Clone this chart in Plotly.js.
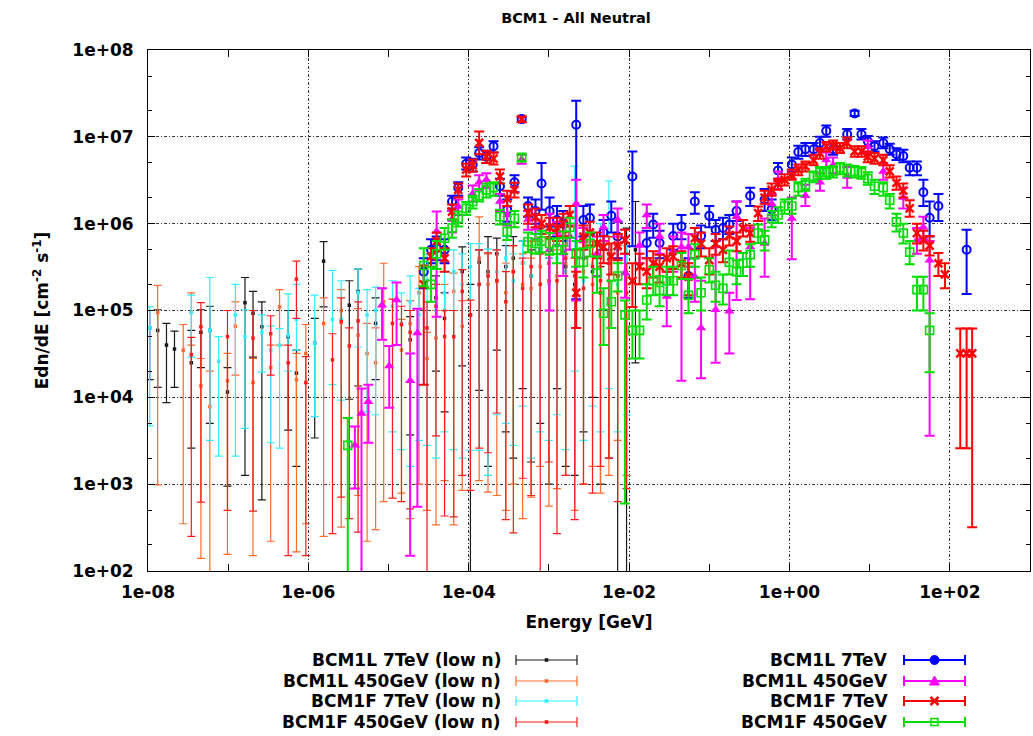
<!DOCTYPE html>
<html><head><meta charset="utf-8">
<script src="https://cdn.plot.ly/plotly-3.0.1.min.js"></script>
<style>html,body{margin:0;padding:0;background:#fff}#chart{width:1033px;height:736px}</style>
</head><body><div id="chart"></div>
<script>
// ---------------- DATA ----------------
const SERIES_NAMES = ['BCM1L 7TeV (low n)','BCM1L 450GeV (low n)','BCM1F 7TeV (low n)','BCM1F 450GeV (low n)',
                      'BCM1L 7TeV','BCM1L 450GeV','BCM1F 7TeV','BCM1F 450GeV'];
const X_TICKS = [1e-8,1e-6,1e-4,1e-2,1,100];
const X_TICK_TEXT = ['1e-08','1e-06','1e-04','1e-02','1e+00','1e+02'];
const Y_TICKS = [1e2,1e3,1e4,1e5,1e6,1e7,1e8];
const Y_TICK_TEXT = ['1e+02','1e+03','1e+04','1e+05','1e+06','1e+07','1e+08'];

// low-n energies (GeV)
const lowE = [1.05e-8,1.32e-8,1.7e-8,2.14e-8,2.75e-8,3.47e-8,4.57e-8,5.9e-8,7.6e-8,9.8e-8,
 1.23e-7,1.62e-7,2.04e-7,2.63e-7,3.39e-7,4.37e-7,5.6e-7,7.1e-7,9.3e-7,1.2e-6,
 1.55e-6,2.0e-6,2.57e-6,3.24e-6,4.17e-6,5.4e-6,6.9e-6,8.7e-6,1.12e-5,1.45e-5,
 1.86e-5,2.4e-5,3.02e-5,3.9e-5,5.0e-5,6.5e-5,8.3e-5,1.05e-4,1.35e-4,1.74e-4,
 2.24e-4,2.9e-4,3.6e-4,4.7e-4,6.0e-4,7.8e-4,1.0e-3,1.26e-3,1.62e-3,2.1e-3,
 2.7e-3,3.5e-3,4.4e-3,5.6e-3,7.2e-3,9.3e-3,1.2e-2];

// BCM1L 7TeV (low n): value, upper end, lower end
const bl7LowV = [6.3e4,5.9e4,4.0e4,3.6e4,null,2.5e4,5.6e4,5.9e4,null,1.15e4,
 null,1.23e5,9.3e4,6.5e4,null,null,5.0e4,1.9e4,null,4.2e4,
 3.7e5,null,null,1.15e5,1.66e5,null,7.1e4,null,null,null,
 4.6e4,null,null,1.4e5,8.1e4,null,2.8e5,8.9e4,3.6e5,2.8e5,
 4.5e5,3.2e5,4.0e5,3.5e5,2.5e5,5.0e5,2.2e5,5.6e5,3.2e5,2.0e5,
 4.0e5,2.8e5,1.6e5,4.5e5,2.5e5,2.5e5,5.0e5];
const bl7LowHi = [1.0e5,1.02e5,7.1e4,5.8e4,null,5.9e4,1.02e5,1.12e5,null,2.2e4,
 null,2.4e5,1.66e5,1.26e5,null,null,1.0e5,3.5e4,null,8.1e4,
 6.2e5,null,null,2.2e5,3.0e5,null,1.4e5,null,null,null,
 8.5e4,null,null,2.5e5,1.6e5,null,5.4e5,2.0e5,5.0e5,7.1e5,
 6.8e5,5.6e5,7.1e5,6.3e5,5.0e5,8.9e5,4.0e5,8.9e5,5.6e5,4.0e5,
 6.3e5,5.6e5,3.2e5,7.1e5,5.0e5,8.9e5,1.8e6];
const bl7LowLo = [1.6e4,1.3e4,8.7e3,1.3e4,null,2.6e3,2.2e4,5.0e3,null,9.5e2,
 null,1.26e3,2.9e4,6.6e2,null,null,4.2e3,1.6e3,null,3.4e3,
 1.1e5,null,null,9.5e3,1.35e4,null,1.6e4,null,null,null,
 3.7e3,null,null,2.0e4,6.8e3,null,2.3e4,30,1.2e4,1.6e3,
 3.5e4,4.0e3,2.0e3,1.26e4,1.8e3,5.0e3,1.0e3,1.26e4,1.6e3,1.26e3,
 4.0e3,1.0e4,1.0e3,2.0e3,30,30,2.5e4];

// BCM1L 450GeV (low n)
const bl450LowV = [null,9.5e4,null,null,3.5e4,9.5e4,1.35e4,7.8e3,null,1.55e4,
 6.6e4,null,1.48e4,null,2.2e4,1.1e5,null,1.6e4,3.2e4,null,
 7.1e4,null,1.0e5,null,5.2e4,3.2e4,2.5e4,1.26e5,null,3.5e4,
 7.1e4,1.6e5,2.8e4,4.8e4,1.0e5,1.66e5,6.6e4,null,4.0e5,2.0e5,
 2.2e5,1.6e5,2.8e5,2.0e5,1.8e5,3.2e5,2.2e5,2.5e5,3.5e5,1.8e5,
 2.8e5,2.0e5,3.2e5,2.2e5,1.6e5,2.8e5,null];
const bl450LowHi = [null,1.95e5,null,null,6.9e4,1.6e5,2.8e4,2.0e4,null,3.2e4,
 1.26e5,null,2.8e4,null,4.0e4,1.74e5,null,3.2e4,6.9e4,null,
 1.4e5,null,1.74e5,null,1.05e5,7.1e4,6.3e4,3.5e5,null,7.9e4,
 1.3e5,3.2e5,5.6e4,1.0e5,2.0e5,2.7e5,1.3e5,null,1.2e6,4.5e5,
 5.0e5,3.5e5,5.6e5,4.5e5,4.0e5,6.3e5,4.5e5,5.0e5,7.1e5,4.0e5,
 6.3e5,4.5e5,6.3e5,5.0e5,3.5e5,5.6e5,null];
const bl450LowLo = [null,9.8e2,null,null,3.5e2,4.0e4,1.4e2,30,null,1.55e2,
 1.8e4,null,1.5e2,null,2.2e2,4.0e4,null,1.66e2,3.5e2,null,
 2.5e2,null,3.2e2,null,7.4e2,2.2e2,3.0e2,6.3e2,null,7.9e2,
 4.0e2,1.0e3,5.0e2,3.4e2,1.1e3,3.4e2,8.5e2,null,1.1e3,8.1e2,
 7.4e2,5.0e2,1.0e3,4.0e2,7.1e2,1.6e3,5.6e2,8.9e2,1.26e3,5.0e2,
 1.0e3,1.6e3,7.9e2,1.26e3,3.2e3,1.26e3,null];

// BCM1F 7TeV (low n)
const bf7LowV = [6.3e4,null,null,null,null,9.5e4,null,5.9e4,2.6e4,null,
 8.9e4,5.0e4,null,5.6e4,3.5e4,4.0e4,5.2e4,7.9e4,null,4.2e4,
 null,7.9e4,7.9e4,null,1.6e5,8.9e4,1.0e5,null,1.12e5,7.1e4,
 1.26e5,8.9e4,2.2e5,1.0e5,1.6e5,2.8e5,2.0e5,3.2e5,2.0e5,2.5e5,
 2.8e5,4.0e5,2.2e5,3.5e5,2.5e5,4.5e5,2.0e5,4.0e5,2.8e5,5.0e5,
 2.2e5,3.5e5,2.5e5,4.0e5,2.0e5,2.5e5,null];
const bf7LowHi = [1.1e5,null,null,null,null,1.5e5,null,2.4e5,5.0e4,null,
 2.0e5,1.02e5,null,8.9e4,6.6e4,6.2e4,1.55e5,2.0e5,null,1.5e5,
 null,2.9e5,2.2e5,null,3.0e5,1.74e5,1.86e5,null,2.2e5,1.6e5,
 2.5e5,1.8e5,4.5e5,2.0e5,3.5e5,5.0e5,4.5e5,5.9e5,5.9e5,5.1e5,
 5.0e5,7.1e5,4.5e5,6.3e5,5.6e5,7.9e5,4.0e5,8.9e5,5.6e5,4.6e6,
 5.0e5,7.1e5,1.0e6,3.1e6,5.0e5,5.6e5,null];
const bf7LowLo = [4.7e3,null,null,null,null,2.9e4,null,3.2e3,2.1e3,null,
 2.1e3,4.4e3,null,1.95e4,3.0e3,2.6e3,2.0e4,3.5e4,null,6.0e3,
 null,1.4e4,9.3e3,null,3.8e4,6.8e3,6.3e3,null,4.0e3,2.5e3,
 1.6e3,3.2e3,2.8e3,2.0e3,4.0e3,2.5e3,2.0e3,2.45e3,2.45e3,1.26e3,
 6.3e3,5.0e3,2.8e3,7.9e3,2.0e3,4.0e3,3.2e3,6.3e3,2.5e3,2.0e4,
 3.2e3,7.9e3,4.0e3,1.26e4,4.0e3,6.3e3,null];

// BCM1F 450GeV (low n)
const bf450LowV = [null,null,null,null,null,3.1e4,6.5e4,null,null,5.0e4,
 null,null,4.8e4,null,5.4e4,null,2.5e4,2.3e5,1.48e4,null,
 null,2.7e4,7.4e4,3.9e4,7.6e4,null,null,null,7.1e4,6.9e4,
 5.6e4,null,6.3e4,1.12e5,5.0e4,5.0e4,1.66e5,8.9e4,2.0e5,2.5e5,
 2.2e5,1.26e5,2.8e5,1.8e5,3.2e5,2.0e5,3.5e5,2.2e5,4.0e5,2.5e5,
 1.8e5,3.2e5,2.2e5,3.5e5,2.5e5,1.6e5,null];
const bf450LowHi = [null,null,null,null,null,4.9e4,1.23e5,null,null,1.0e5,
 null,null,1.0e5,null,8.7e4,null,4.0e4,3.7e5,2.95e4,null,
 null,5.4e4,1.4e5,6.3e4,1.26e5,null,null,null,1.35e5,1.12e5,
 1.0e5,null,1.26e5,2.0e5,1.0e5,1.0e5,2.95e5,1.32e5,5.0e5,4.6e5,
 5.0e5,2.8e5,5.6e5,4.0e5,6.3e5,4.5e5,7.1e5,4.5e5,7.9e5,5.0e5,
 4.0e5,6.3e5,5.0e5,7.1e5,5.6e5,3.5e5,null];
const bf450LowLo = [null,null,null,null,null,2.5e2,6.2e2,null,null,5.0e2,
 null,null,4.9e2,null,1.8e4,null,1.5e2,8.1e4,1.5e2,null,
 null,2.7e2,7.1e2,4.0e2,2.8e2,null,null,null,6.9e2,6.3e2,
 5.2e2,null,30,3.6e3,4.3e2,4.2e2,1.26e3,8.5e2,2.6e3,2.3e3,
 6.6e3,3.9e2,2.75e2,1.17e3,7.4e2,30,1.8e3,2.7e2,1.26e3,3.9e2,
 1.0e3,7.9e2,1.6e3,2.0e3,6.3e2,8.9e2,null];

// high-n energies (GeV)
const highE = [3.1e-6,3.8e-6,4.6e-6,5.6e-6,6.9e-6,8.3e-6,1.02e-5,1.26e-5,1.51e-5,1.86e-5,
 2.29e-5,2.75e-5,3.39e-5,3.98e-5,5.0e-5,6.2e-5,7.4e-5,9.3e-5,1.12e-4,1.35e-4,
 1.66e-4,2.04e-4,2.45e-4,3.02e-4,3.72e-4,4.57e-4,5.5e-4,6.8e-4,8.1e-4,1.02e-3,
 1.26e-3,1.51e-3,1.82e-3,2.19e-3,2.69e-3,3.24e-3,3.98e-3,4.8e-3,6.0e-3,7.2e-3,
 8.9e-3,1.10e-2,1.35e-2,1.66e-2,2.0e-2,2.4e-2,2.95e-2,3.55e-2,4.5e-2,5.5e-2,
 6.6e-2,7.9e-2,0.100,0.120,0.148,0.178,0.219,0.263,0.324,0.407,
 0.49,0.60,0.72,0.87,1.07,1.29,1.58,2.0,2.4,2.88,
 3.5,4.27,5.25,6.5,7.9,9.5,11.5,14.8,17.8,21.6,
 26.3,31.6,38.9,46.8,56,72,87,107,135,162,
 190];

// BCM1L 7TeV
const bl7V = [null,null,null,null,null,null,null,null,null,null,
 null,2.8e5,5.0e5,5.2e5,5.0e5,1.8e6,2.6e6,4.9e6,4.8e6,6.5e6,
 5.9e6,7.8e6,2.7e6,1.45e6,3.0e6,1.6e7,1.6e6,1.4e6,2.9e6,1.4e6,
 1.1e6,1.0e6,null,1.38e7,1.1e6,1.17e6,null,7.9e5,1.23e6,7.1e5,
 null,3.5e6,null,6.0e5,9.8e5,6.0e5,null,7.2e5,9.3e5,2.5e5,
 1.8e6,7.2e5,1.23e6,8.5e5,8.9e5,9.8e5,1.4e6,null,2.1e6,null,
 1.9e6,1.46e6,4.1e6,null,4.8e6,6.7e6,7.2e6,7.2e6,8.5e6,1.17e7,
 7.2e6,null,1.07e7,1.86e7,1.07e7,8.9e6,7.8e6,8.5e6,7.2e6,6.3e6,
 6.0e6,4.4e6,4.4e6,2.3e6,1.17e6,1.6e6,null,null,null,5.0e5,
 null];
const bl7Hi = [null,null,null,null,null,null,null,null,null,null,
 null,4.0e5,6.6e5,7.1e5,6.6e5,2.1e6,3.0e6,5.8e6,5.6e6,7.6e6,
 6.9e6,8.9e6,3.3e6,1.9e6,3.6e6,1.7e7,2.0e6,1.9e6,5.0e6,2.0e6,
 1.6e6,1.4e6,null,2.6e7,1.6e6,1.66e6,null,1.1e6,1.8e6,1.05e6,
 null,6.8e6,null,8.3e5,1.3e6,8.3e5,null,1.0e6,1.26e6,4.0e5,
 2.3e6,9.5e5,1.6e6,1.1e6,1.17e6,1.26e6,1.8e6,null,2.6e6,null,
 2.5e6,1.9e6,5.0e6,null,5.8e6,7.9e6,8.5e6,8.5e6,1.0e7,1.35e7,
 8.3e6,null,1.23e7,2.0e7,1.23e7,1.02e7,8.9e6,9.8e6,8.3e6,7.4e6,
 7.1e6,5.2e6,5.2e6,3.2e6,1.8e6,2.2e6,null,null,null,8.5e5,
 null];
const bl7Lo = [null,null,null,null,null,null,null,null,null,null,
 null,1.8e5,3.5e5,3.8e5,3.5e5,1.5e6,2.1e6,4.2e6,4.0e6,5.5e6,
 5.0e6,6.6e6,2.1e6,1.05e6,2.3e6,1.48e7,1.2e6,1.0e6,1.45e6,9.3e5,
 7.1e5,6.3e5,null,1.35e5,7.1e5,7.6e5,null,5.0e5,7.9e5,4.0e5,
 null,5.5e5,null,4.0e5,6.9e5,4.0e5,null,5.0e5,6.6e5,1.4e5,
 1.3e6,5.2e5,9.1e5,6.3e5,6.6e5,7.6e5,1.07e6,null,1.6e6,null,
 1.4e6,1.1e6,3.3e6,null,4.0e6,5.6e6,6.0e6,6.2e6,7.2e6,1.0e7,
 6.2e6,null,9.3e6,1.74e7,9.3e6,7.8e6,6.8e6,7.4e6,6.2e6,5.4e6,
 5.1e6,3.6e6,3.6e6,1.6e6,7.1e5,1.07e6,null,null,null,1.55e5,
 null];

// BCM1L 450GeV
const bl450V = [null,2.8e3,6.5e3,8.9e3,null,1.15e5,2.3e4,1.32e5,null,1.55e4,
 5.5e4,null,null,8.1e5,null,1.12e6,1.58e6,null,2.2e6,3.0e6,
 3.2e6,null,1.8e6,1.26e6,null,5.5e6,1.12e6,8.9e5,null,5.0e5,
 7.9e5,4.6e5,7.1e5,1.7e6,6.3e5,null,4.5e5,9.1e5,null,1.1e6,
 2.7e5,null,5.6e5,1.26e6,null,7.1e5,1.45e5,4.8e5,5.4e5,5.4e5,
 2.45e5,6.3e4,null,1.02e5,null,9.8e4,1.2e6,null,5.4e5,null,
 5.9e5,1.7e6,3.2e6,null,1.15e6,null,2.1e6,null,3.0e6,5.4e6,
 4.7e6,null,3.5e6,null,null,7.7e6,null,4.0e6,null,null,
 2.0e6,null,6.5e5,9.1e5,3.8e5,null,null,null,null,null,
 null];
const bl450Hi = [null,4.6e3,1.26e4,1.4e4,null,1.8e5,3.9e4,2.1e5,null,3.2e4,
 1.05e5,null,null,1.38e6,null,1.4e6,1.9e6,null,2.75e6,3.6e6,
 3.8e6,null,2.2e6,1.6e6,null,6.2e6,1.4e6,1.12e6,null,1.3e6,
 1.05e6,7.1e5,9.5e5,3.2e6,8.9e5,null,7.1e5,1.26e6,null,1.5e6,
 4.5e5,null,7.9e5,1.66e6,null,1.0e6,2.8e5,7.1e5,7.9e5,7.6e5,
 4.0e5,2.2e5,null,5.4e5,null,1.6e5,1.8e6,null,8.9e5,null,
 1.15e6,2.2e6,4.0e6,null,2.0e6,null,2.8e6,null,3.8e6,6.6e6,
 5.8e6,null,4.5e6,null,null,9.1e6,null,5.0e6,null,null,
 2.6e6,null,8.9e5,1.2e6,6.3e5,null,null,null,null,null,
 null];
const bl450Lo = [null,8.9e2,30,3.0e3,null,4.6e4,7.6e3,4.0e4,null,1.5e2,
 5.5e2,null,null,8.5e4,null,7.9e5,1.26e6,null,1.8e6,2.45e6,
 2.6e6,null,1.4e6,9.5e5,null,4.9e6,8.5e5,6.6e5,null,1.0e5,
 5.6e5,2.5e5,5.0e5,1.3e5,4.0e5,null,2.5e5,6.3e5,null,7.1e5,
 1.4e5,null,3.5e5,8.9e5,null,4.5e5,6.6e4,2.8e5,1.55e4,3.2e5,
 1.26e5,1.66e4,null,2.5e4,null,3.2e4,1.32e5,null,1.35e5,null,
 2.45e5,1.26e6,2.5e6,null,3.9e5,null,1.6e6,null,2.4e6,4.4e6,
 3.8e6,null,2.6e6,null,null,6.5e6,null,3.2e6,null,null,
 1.5e6,null,4.5e5,6.6e5,3.6e3,null,null,null,null,null,
 null];

// BCM1F 7TeV
const bf7V = [null,null,null,null,null,null,null,null,null,null,
 null,2.0e5,4.2e5,6.3e5,4.0e5,1.38e6,2.45e6,4.2e6,4.7e6,8.5e6,
 5.9e6,5.6e6,3.5e6,1.95e6,2.45e6,1.6e7,1.32e6,1.2e6,1.0e6,9.1e5,
 8.9e5,1.0e6,1.26e6,1.6e5,7.1e5,7.9e5,5.9e5,5.4e5,4.2e5,5.6e5,
 6.5e5,2.2e5,3.2e5,2.8e5,3.5e5,3.2e5,4.0e5,4.2e5,3.5e5,2.45e5,
 6.8e5,5.9e5,3.8e5,5.9e5,5.0e5,7.4e5,6.3e5,8.9e5,7.8e5,1.32e6,
 2.0e6,2.45e6,2.9e6,3.2e6,3.6e6,4.2e6,4.6e6,5.4e6,6.5e6,7.7e6,
 8.0e6,7.4e6,8.5e6,6.8e6,6.8e6,5.9e6,5.6e6,5.4e6,4.0e6,2.95e6,
 2.4e6,1.5e6,7.8e5,6.5e5,5.6e5,3.5e5,2.6e5,null,3.2e4,3.2e4,
 3.2e4];
const bf7Hi = [null,null,null,null,null,null,null,null,null,null,
 null,3.3e5,5.2e5,7.9e5,5.2e5,1.66e6,2.9e6,4.9e6,5.5e6,1.15e7,
 6.9e6,6.6e6,4.2e6,2.4e6,2.95e6,1.7e7,1.66e6,1.5e6,1.26e6,1.17e6,
 1.17e6,1.3e6,1.6e6,2.8e5,9.5e5,1.05e6,7.9e5,7.2e5,5.9e5,7.6e5,
 8.5e5,3.5e5,4.5e5,4.0e5,4.8e5,4.4e5,5.2e5,5.5e5,4.8e5,3.5e5,
 8.9e5,7.9e5,5.2e5,7.6e5,6.6e5,9.3e5,7.9e5,1.1e6,9.5e5,1.58e6,
 2.4e6,2.9e6,3.3e6,3.7e6,4.2e6,4.8e6,5.2e6,6.2e6,7.4e6,8.7e6,
 9.1e6,8.5e6,9.8e6,7.8e6,7.8e6,6.8e6,6.5e6,6.2e6,4.7e6,3.5e6,
 2.9e6,1.86e6,1.0e6,8.3e5,7.2e5,4.6e5,3.5e5,null,6.2e4,6.2e4,
 6.2e4];
const bf7Lo = [null,null,null,null,null,null,null,null,null,null,
 null,1.4e4,3.2e5,4.8e5,2.8e5,1.12e6,2.0e6,3.5e6,4.0e6,6.3e6,
 5.0e6,4.8e6,2.9e6,1.6e6,2.0e6,1.48e7,1.0e6,9.1e5,7.6e5,6.8e5,
 6.3e5,7.1e5,9.3e5,6.3e4,5.0e5,5.6e5,4.0e5,3.5e5,2.6e5,3.8e5,
 4.5e5,1.1e5,2.0e5,1.8e5,2.4e5,2.1e5,2.8e5,3.0e5,2.4e5,1.5e5,
 5.0e5,4.2e5,2.6e5,4.4e5,3.6e5,5.6e5,4.8e5,7.1e5,6.2e5,1.07e6,
 1.7e6,2.1e6,2.45e6,2.75e6,3.2e6,3.6e6,4.0e6,4.7e6,5.6e6,6.8e6,
 7.1e6,6.5e6,7.4e6,5.9e6,5.9e6,5.1e6,4.9e6,4.7e6,3.4e6,2.45e6,
 2.0e6,1.2e6,5.9e5,4.9e5,4.3e5,2.5e5,1.8e5,null,2.6e3,2.6e3,
 3.2e2];

// BCM1F 450GeV
const bf450V = [2.8e3,null,null,null,null,null,null,null,null,null,
 null,3.3e5,2.0e5,4.5e5,6.8e5,8.9e5,1.15e6,1.5e6,1.8e6,2.1e6,
 2.45e6,2.6e6,1.2e6,8.1e5,1.15e6,5.8e6,6.2e5,5.9e5,6.3e5,5.9e5,
 5.0e5,6.2e5,9.1e5,4.6e5,3.6e5,5.9e5,2.7e5,9.3e4,1.26e5,2.5e5,
 8.9e4,5.9e4,5.9e4,1.32e5,2.2e5,1.7e5,2.2e5,2.2e5,3.3e5,1.5e5,
 4.4e5,1.6e5,2.95e5,1.95e5,1.8e5,3.6e5,2.8e5,3.5e5,4.4e5,7.8e5,
 6.5e5,1.15e6,1.26e6,1.6e6,1.6e6,2.6e6,2.8e6,3.5e6,3.9e6,3.9e6,
 4.0e6,4.4e6,4.2e6,4.0e6,3.9e6,3.3e6,2.7e6,2.6e6,1.86e6,1.05e6,
 7.8e5,4.7e5,1.74e5,1.74e5,5.9e4,null,null,null,null,null,
 null];
const bf450Hi = [5.8e3,null,null,null,null,null,null,null,null,null,
 null,5.2e5,3.2e5,6.3e5,8.9e5,1.12e6,1.38e6,1.78e6,2.1e6,2.5e6,
 2.9e6,3.0e6,1.45e6,1.0e6,1.4e6,6.3e6,7.9e5,7.6e5,8.3e5,7.8e5,
 6.8e5,8.1e5,1.17e6,6.3e5,5.2e5,7.9e5,4.2e5,1.8e5,2.2e5,3.5e5,
 1.3e5,1.0e5,1.0e5,2.0e5,3.2e5,2.5e5,3.2e5,3.2e5,4.6e5,2.3e5,
 5.8e5,2.4e5,4.0e5,2.8e5,2.6e5,4.9e5,3.8e5,4.6e5,5.8e5,9.8e5,
 8.3e5,1.4e6,1.55e6,1.9e6,1.95e6,3.0e6,3.3e6,4.0e6,4.5e6,4.5e6,
 4.6e6,5.0e6,4.8e6,4.6e6,4.5e6,3.9e6,3.2e6,3.0e6,2.2e6,1.3e6,
 1.0e6,6.3e5,2.45e5,2.45e5,9.3e4,null,null,null,null,null,
 null];
const bf450Lo = [30,null,null,null,null,null,null,null,null,null,
 null,1.9e5,1.26e5,3.0e5,5.0e5,6.9e5,9.3e5,1.26e6,1.5e6,1.8e6,
 2.0e6,2.1e6,9.8e5,6.5e5,9.1e5,5.2e6,4.7e5,4.5e5,4.7e5,4.4e5,
 3.5e5,4.5e5,6.9e5,3.2e5,2.4e5,4.2e5,1.6e5,4.0e4,6.3e4,1.66e5,
 6.0e2,2.8e4,2.8e4,7.9e4,1.5e5,1.12e5,1.5e5,1.5e5,2.3e5,9.3e4,
 3.2e5,1.0e5,2.1e5,1.26e5,1.17e5,2.6e5,2.0e5,2.5e5,3.2e5,6.0e5,
 4.9e5,9.1e5,1.02e6,1.3e6,1.3e6,2.1e6,2.4e6,3.0e6,3.3e6,3.3e6,
 3.4e6,3.7e6,3.5e6,3.4e6,3.3e6,2.8e6,2.2e6,2.1e6,1.5e6,8.1e5,
 5.9e5,3.4e5,1.0e5,1.0e5,1.95e4,null,null,null,null,null,
 null];

// ---------------- STYLE ----------------
const COLORS = ['#1a1a1a','#ff6a2a','#33eeff','#ff1a1a','#0000ff','#ff00ff','#ff0000','#00dd00'];
const FONT = 'DejaVu Sans, Verdana, sans-serif';
const FS = 17;

function series(x, v, hi, lo, name, color, marker, thick, cap) {
  const X = [], Y = [], P = [], M = [];
  for (let i = 0; i < x.length; i++) {
    if (v[i] === null) continue;
    X.push(x[i]); Y.push(v[i]); P.push(hi[i] - v[i]); M.push(v[i] - lo[i]);
  }
  return {type:'scatter', mode:'markers', name, x:X, y:Y, marker, showlegend:false, hoverinfo:'skip',
    error_y:{type:'data', symmetric:false, array:P, arrayminus:M, color, thickness:thick, width:cap}};
}
const lowMk = c => ({symbol:'square', size:3.5, color:c, line:{width:0}});
const traces = [
  series(lowE, bl7LowV, bl7LowHi, bl7LowLo, SERIES_NAMES[0], COLORS[0], lowMk(COLORS[0]), 1.2, 4),
  series(lowE, bl450LowV, bl450LowHi, bl450LowLo, SERIES_NAMES[1], COLORS[1], lowMk(COLORS[1]), 1.2, 4),
  series(lowE, bf7LowV, bf7LowHi, bf7LowLo, SERIES_NAMES[2], COLORS[2], lowMk(COLORS[2]), 1.2, 4),
  series(lowE, bf450LowV, bf450LowHi, bf450LowLo, SERIES_NAMES[3], COLORS[3], lowMk(COLORS[3]), 1.2, 4),
  series(highE, bl7V, bl7Hi, bl7Lo, SERIES_NAMES[4], COLORS[4], {symbol:'circle-open', size:8, color:COLORS[4], line:{width:2, color:COLORS[4]}}, 2, 5),
  series(highE, bl450V, bl450Hi, bl450Lo, SERIES_NAMES[5], COLORS[5], {symbol:'triangle-up', size:9, color:COLORS[5], line:{width:0}}, 2, 5),
  series(highE, bf7V, bf7Hi, bf7Lo, SERIES_NAMES[6], COLORS[6], {symbol:'x-thin-open', size:8, color:COLORS[6], line:{width:2.5, color:COLORS[6]}}, 2, 5),
  series(highE, bf450V, bf450Hi, bf450Lo, SERIES_NAMES[7], COLORS[7], {symbol:'square-open', size:8, color:COLORS[7], line:{width:1.6, color:COLORS[7]}}, 2, 5)
];

// ---------------- LAYOUT ----------------
const W = 1033, H = 736, ML = 148, MR = 3, MT = 50, MB = 165;
const PW = W - ML - MR, PH = H - MT - MB;
const px2x = p => (p - ML) / PW;
const py2y = p => (H - MB - p) / PH;

const yMinor = [];
for (let e = 2; e < 8; e++) { yMinor.push(2 * Math.pow(10, e), 5 * Math.pow(10, e)); }
const xMinor = [1e-7, 1e-5, 1e-3, 1e-1, 10];

const shapes = [], annotations = [];
const LEG_ROWS = [660, 681, 701, 722];
const LEG_TEXT_X = [503, 890];
const LEG_SAMPLE_X = [516, 904];
const LEG_SYMS = ['dot','dot','dot','dot','circle','tri','x','sq'];
SERIES_NAMES.forEach((name, i) => {
  const col = i < 4 ? 0 : 1, row = i % 4;
  const yy = LEG_ROWS[row], c = COLORS[i];
  const lw = i < 4 ? 1.2 : 2;
  const s0 = LEG_SAMPLE_X[col], s1 = s0 + 61;
  annotations.push({xref:'paper', yref:'paper', x:px2x(LEG_TEXT_X[col]), y:py2y(yy), xanchor:'right', yanchor:'middle',
    text:name, showarrow:false, font:{family:FONT, size:FS, weight:'bold', color:'#000'}});
  shapes.push({type:'line', xref:'paper', yref:'paper', x0:px2x(s0), x1:px2x(s1), y0:py2y(yy), y1:py2y(yy), line:{color:c, width:lw}});
  [s0, s1].forEach(xx => shapes.push({type:'line', xref:'paper', yref:'paper', x0:px2x(xx), x1:px2x(xx), y0:py2y(yy - 5), y1:py2y(yy + 5), line:{color:c, width:lw}}));
  const base = {xref:'paper', yref:'paper', xsizemode:'pixel', ysizemode:'pixel', xanchor:px2x(s0 + 30.5), yanchor:py2y(yy)};
  const sym = LEG_SYMS[i];
  if (sym === 'dot') shapes.push(Object.assign({type:'rect', x0:-1.8, x1:1.8, y0:-1.8, y1:1.8, fillcolor:c, line:{width:0}}, base));
  if (sym === 'circle') shapes.push(Object.assign({type:'circle', x0:-4.5, x1:4.5, y0:-4.5, y1:4.5, fillcolor:c, line:{color:c, width:1}}, base));
  if (sym === 'tri') shapes.push(Object.assign({type:'path', path:'M-5,-4L5,-4L0,5Z', fillcolor:c, line:{color:c, width:1}}, base));
  if (sym === 'x') shapes.push(Object.assign({type:'path', path:'M-4,-4L4,4M-4,4L4,-4', line:{color:c, width:2.5}}, base));
  if (sym === 'sq') shapes.push(Object.assign({type:'rect', x0:-3.5, x1:3.5, y0:-3.5, y1:3.5, line:{color:c, width:1.5}}, base));
});

const axisCommon = {
  type:'log', showline:true, linecolor:'#000', linewidth:1, mirror:'ticks',
  ticks:'inside', ticklen:7, tickwidth:1, tickcolor:'#000', zeroline:false,
  showgrid:true, gridcolor:'#333', gridwidth:1, griddash:'3px,2px,1px,2px',
  tickmode:'array', tickfont:{family:FONT, size:FS, weight:'bold', color:'#000'}
};
const layout = {
  width:W, height:H, margin:{l:ML, r:MR, t:MT, b:MB},
  paper_bgcolor:'#fff', plot_bgcolor:'#fff',
  font:{family:FONT, size:FS, color:'#000', weight:'bold'},
  title:{text:'BCM1 - All Neutral', x:576 / W, xanchor:'center', y:1 - 18 / H, yanchor:'middle',
    font:{family:FONT, size:14.5, weight:'bold', color:'#000'}},
  xaxis:Object.assign({}, axisCommon, {range:[-8, 3], tickvals:X_TICKS, ticktext:X_TICK_TEXT, ticklabelstandoff:6,
    minor:{tickmode:'array', tickvals:xMinor, ticks:'inside', ticklen:7, tickcolor:'#000', showgrid:false},
    title:{text:'Energy [GeV]', standoff:14, font:{family:FONT, size:FS, weight:'bold', color:'#000'}}}),
  yaxis:Object.assign({}, axisCommon, {range:[2, 8], tickvals:Y_TICKS, ticktext:Y_TICK_TEXT, ticklabelstandoff:10,
    minor:{tickmode:'array', tickvals:yMinor, ticks:'inside', ticklen:4, tickcolor:'#000', showgrid:false},
    title:{text:'Edn/dE [cm<sup>-2</sup> s<sup>-1</sup>]', standoff:19, font:{family:FONT, size:FS, weight:'bold', color:'#000'}}}),
  shapes, annotations
};
Plotly.newPlot('chart', traces, layout, {displayModeBar:false, staticPlot:true});
</script>
</body></html>
